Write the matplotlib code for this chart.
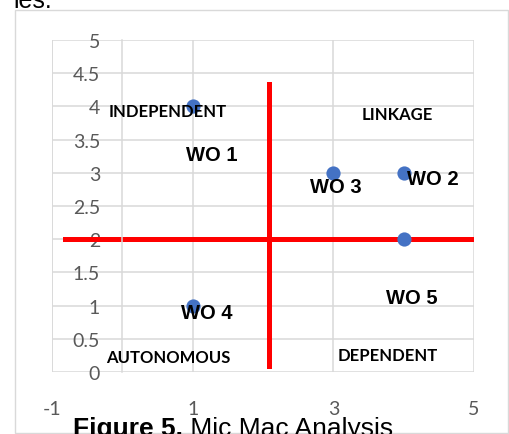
import matplotlib.pyplot as plt
import numpy as np

# data
wo_x = [1, 4, 3, 1, 4]
wo_y = [4, 3, 3, 1, 2]
wo_names = ["WO 1", "WO 2", "WO 3", "WO 4", "WO 5"]
# where each WO label sits
wo_label_x = [1.27, 4.42, 3.04, 1.20, 4.11]
wo_label_y = [3.27, 2.91, 2.79, 0.90, 1.12]

quadrants = ["INDEPENDENT", "LINKAGE", "AUTONOMOUS", "DEPENDENT"]
quad_x = [0.65, 3.91, 0.65, 3.78]
quad_y = [3.93, 3.88, 0.23, 0.26]

# red divider lines
h_line_x = [-0.82, 5.0]
h_line_y = [2, 2]
v_line_x = [2.08, 2.08]
v_line_y = [0.09, 4.34]

x_ticks = [-1, 1, 3, 5]
x_tick_labels = ["-1", "1", "3", "5"]
y_ticks = np.arange(0, 5.01, 0.5)

W, H = 509, 435
fig = plt.figure(figsize=(W / 100, H / 100), dpi=100)

# outer chart frame
frame = plt.Rectangle((15 / W, 1 - 434 / H), 493 / W, 423 / H, transform=fig.transFigure,
                      fill=False, edgecolor='#D9D9D9', linewidth=1.0)
fig.patches.append(frame)

ax = fig.add_axes([52 / W, 1 - 373 / H, 422 / W, 332 / H])
ax.set_xlim(-1, 5)
ax.set_ylim(0, 5)
ax.set_xticks(x_ticks)
ax.set_xticklabels(x_tick_labels)
ax.set_yticks(y_ticks)
ax.set_yticklabels([f"{v:g}" for v in y_ticks])
ax.grid(True, color='#D9D9D9', linewidth=1.1)
ax.set_axisbelow(True)
for s in ['top', 'right', 'bottom']:
    ax.spines[s].set_visible(False)
ax.spines['left'].set_position(('data', 0))
ax.spines['left'].set_color('#D9D9D9')
ax.spines['left'].set_linewidth(1.1)
ax.tick_params(axis='both', length=0, labelsize=14, labelcolor='#595959')
ax.tick_params(axis='y', pad=16)
ax.tick_params(axis='x', pad=20)
for lab in ax.get_xticklabels() + ax.get_yticklabels():
    lab.set_fontfamily('Lato')

# frame edge at x = -1
ax.axvline(-1, color='#D9D9D9', linewidth=1.1, zorder=0)

ax.plot(h_line_x, h_line_y, color='#FF0000', linewidth=3.6, zorder=2)
ax.plot(v_line_x, v_line_y, color='#FF0000', linewidth=3.6, zorder=2)
ax.scatter(wo_x, wo_y, s=105, color='#4472C4', zorder=3, linewidths=0)

for name, lx, ly in zip(wo_names, wo_label_x, wo_label_y):
    ax.text(lx, ly, name, ha='center', va='center', fontsize=14.5, fontweight='bold',
            family='Liberation Sans', color='black', zorder=4)

for name, qx, qy in zip(quadrants, quad_x, quad_y):
    ax.text(qx, qy, name, ha='center', va='center', fontsize=12, fontweight='bold',
            family='Lato', color='black', zorder=4)

# caption text around the chart
fig.text(13 / W, 1 - 8 / H, "ies.", fontsize=18, family='Liberation Sans', va='baseline')
t1 = fig.text(73 / W, -1 / H, "Figure 5.", fontsize=19, fontweight='bold',
              family='Liberation Sans', va='baseline')
fig.canvas.draw()
bb = t1.get_window_extent()
fig.text(bb.x1 / W, -1 / H, " Mic Mac Analysis", fontsize=19, family='Liberation Sans',
         va='baseline')

fig.savefig('out.png', dpi=100)
